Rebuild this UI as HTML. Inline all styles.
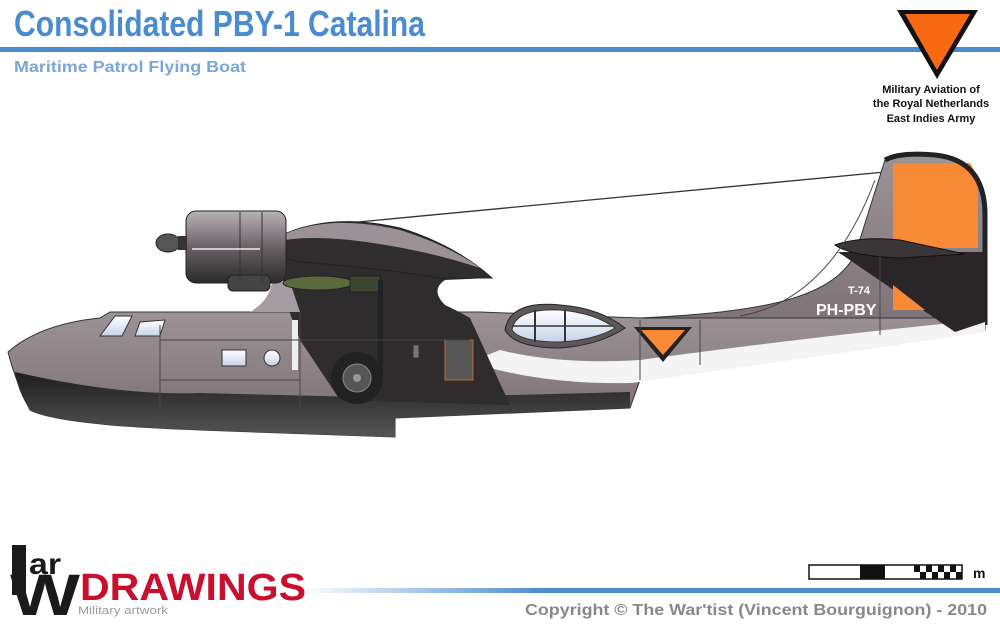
<!DOCTYPE html>
<html><head><meta charset="utf-8"><style>
html,body{margin:0;padding:0;background:#fff;}
svg{display:block;}
</style></head><body>
<svg width="1000" height="630" viewBox="0 0 1000 630" xmlns="http://www.w3.org/2000/svg">
<defs>
<linearGradient id="hull" x1="0" y1="0" x2="0" y2="1">
<stop offset="0" stop-color="#9c9397"/><stop offset="0.5" stop-color="#8a8084"/><stop offset="1" stop-color="#756b70"/>
</linearGradient>
<linearGradient id="keel" x1="0" y1="0" x2="0" y2="1">
<stop offset="0" stop-color="#1e1e1e"/><stop offset="1" stop-color="#555"/>
</linearGradient>
<linearGradient id="eng" x1="0" y1="0" x2="0" y2="1">
<stop offset="0" stop-color="#b9b2b6"/><stop offset="0.5" stop-color="#6a6266"/><stop offset="1" stop-color="#2a2a2a"/>
</linearGradient>
<linearGradient id="bline" x1="0" y1="0" x2="1" y2="0">
<stop offset="0" stop-color="#4a8ccf" stop-opacity="0"/><stop offset="0.35" stop-color="#4a8ccf"/><stop offset="1" stop-color="#4a8ccf"/>
</linearGradient>
<linearGradient id="glass" x1="0" y1="0" x2="0" y2="1">
<stop offset="0" stop-color="#fff"/><stop offset="1" stop-color="#c7d3ea"/>
</linearGradient>
</defs>

<!-- header -->
<text x="14" y="36" font-family="Liberation Sans, sans-serif" font-weight="bold" font-size="36" fill="#4a8ccf" textLength="411" lengthAdjust="spacingAndGlyphs">Consolidated PBY-1 Catalina</text>
<rect x="0" y="47" width="1000" height="5" fill="#4a8ccf"/>
<text x="14" y="72" font-family="Liberation Sans, sans-serif" font-weight="bold" font-size="16" fill="#7aa7d8" textLength="232" lengthAdjust="spacingAndGlyphs">Maritime Patrol Flying Boat</text>
<polygon points="897,10 978,10 937,79" fill="#111"/>
<polygon points="905,14 970,14 937,70" fill="#f86a12"/>
<g font-family="Liberation Sans, sans-serif" font-weight="bold" font-size="11" fill="#111" text-anchor="middle">
<text x="931" y="93">Military Aviation of</text>
<text x="931" y="107">the Royal Netherlands</text>
<text x="931" y="122">East Indies Army</text>
</g>

<!-- strut wire -->
<line x1="358" y1="222" x2="885" y2="172" stroke="#333" stroke-width="1.3"/>

<!-- fin -->
<path d="M640,318 C760,312 830,300 855,255 L885,160 Q900,152 935,155 Q980,160 985,215 L985,330 L640,360 Z" fill="url(#hull)" stroke="#333"/>
<path d="M893,163 L970,163 Q978,175 978,200 L978,248 L893,248 Z" fill="#f98a35"/>
<path d="M885,160 Q900,152 935,155 Q985,160 985,215 L985,325" fill="none" stroke="#222" stroke-width="5"/>

<!-- main hull -->
<path d="M8,352 Q40,324 100,318 L110,312 L480,312 L640,318 L985,318 L985,330 Q900,345 640,380 L630,408 L395,418 L395,437 L200,430 Q60,425 30,410 Q15,380 8,352 Z" fill="url(#hull)" stroke="#333"/>
<!-- white underside -->
<path d="M470,362 Q540,385 632,383 L985,332 L985,320 Q850,332 640,360 Q560,365 500,350 Z" fill="#f4f4f4"/>
<!-- keel -->
<path d="M15,372 Q120,396 200,393 L400,398 L630,392 L630,408 L395,418 L395,437 L200,430 Q60,425 30,410 Q18,392 15,372 Z" fill="url(#keel)"/>
<!-- dark pylon area -->
<path d="M280,245 L490,278 L445,280 Q430,290 445,305 Q460,312 470,318 L510,405 L340,400 L300,340 L285,300 Z" fill="#2e2c2d"/>
<path d="M250,312 Q270,300 272,282 L290,282 L300,312 Z" fill="#a49ca0"/>
<!-- tail lower dark -->
<path d="M838,252 L985,252 L985,322 L955,332 Z" fill="#2a2627"/>
<polygon points="893,285 893,310 925,310" fill="#f98a35"/>
<!-- stabilizer -->
<path d="M835,245 Q860,236 900,240 L965,254 L900,258 Q850,256 835,245 Z" fill="#3a3637" stroke="#111"/>

<!-- wing -->
<path d="M280,236 Q330,212 400,228 Q455,245 492,278 L440,278 Q380,268 300,262 L282,258 Z" fill="#2f2d2e" stroke="#222"/>
<path d="M285,234 Q330,214 400,230 Q450,246 480,268 Q420,248 350,240 Q310,236 285,240 Z" fill="#9a9296"/>
<!-- engine -->
<rect x="186" y="211" width="100" height="72" rx="10" fill="url(#eng)" stroke="#222"/>
<rect x="228" y="275" width="42" height="16" rx="5" fill="#444" stroke="#222"/>
<line x1="240" y1="212" x2="240" y2="283" stroke="#333"/>
<line x1="262" y1="212" x2="262" y2="283" stroke="#333"/>
<line x1="192" y1="249" x2="260" y2="249" stroke="#eee" stroke-width="1.5"/>
<ellipse cx="168" cy="243" rx="12" ry="9" fill="#555" stroke="#222"/>
<rect x="178" y="236" width="9" height="14" fill="#333"/>
<!-- bomb -->
<ellipse cx="318" cy="283" rx="35" ry="7" fill="#5b6a3c" stroke="#222"/>
<rect x="350" y="276" width="30" height="16" fill="#3d4630" stroke="#222"/>

<!-- gear struts -->
<rect x="292" y="320" width="6" height="50" fill="#eee"/>
<rect x="378" y="280" width="5" height="95" fill="#222"/>
<circle cx="357" cy="378" r="26" fill="#222"/>
<circle cx="357" cy="378" r="14" fill="#555" stroke="#888"/>
<circle cx="357" cy="378" r="4" fill="#999"/>

<!-- windows -->
<path d="M100,336 L115,316 L132,316 L122,336 Z" fill="url(#glass)" stroke="#333"/>
<path d="M135,336 L140,322 L165,320 L160,336 Z" fill="url(#glass)" stroke="#333"/>
<rect x="222" y="350" width="24" height="16" fill="url(#glass)" stroke="#333"/>
<ellipse cx="272" cy="358" rx="8" ry="8" fill="url(#glass)" stroke="#333"/>
<rect x="413" y="345" width="6" height="13" fill="#777" stroke="#333"/>
<rect x="445" y="340" width="28" height="40" fill="#555" stroke="#c06a2c"/>

<!-- turret -->
<path d="M505,330 Q510,300 560,305 Q600,308 625,328 Q600,345 560,348 Q515,348 505,330 Z" fill="#5e5759" stroke="#222"/>
<path d="M512,330 Q515,308 560,310 Q595,313 615,328 Q595,340 560,342 Q520,342 512,330 Z" fill="url(#glass)" stroke="#333"/>
<line x1="535" y1="310" x2="535" y2="342" stroke="#333" stroke-width="2"/>
<line x1="565" y1="310" x2="565" y2="342" stroke="#333" stroke-width="2"/>
<line x1="513" y1="326" x2="612" y2="326" stroke="#333" stroke-width="1.5"/>

<!-- roundel -->
<polygon points="634,327 692,327 663,362" fill="#222"/>
<polygon points="641,330 685,330 663,355" fill="#f98a35"/>

<!-- panel lines -->
<g stroke="#4a4346" stroke-width="1" fill="none">
<line x1="160" y1="325" x2="160" y2="425"/>
<line x1="160" y1="340" x2="470" y2="340"/>
<line x1="160" y1="380" x2="300" y2="380"/>
<line x1="300" y1="312" x2="300" y2="410"/>
<line x1="640" y1="320" x2="640" y2="380"/>
<line x1="700" y1="320" x2="700" y2="365"/>
<path d="M740,316 Q830,300 875,180"/>
<line x1="880" y1="255" x2="880" y2="335"/>
</g>

<text x="848" y="294" font-family="Liberation Sans, sans-serif" font-weight="bold" font-size="11" fill="#fff">T-74</text>
<text x="816" y="315" font-family="Liberation Sans, sans-serif" font-weight="bold" font-size="16" fill="#fff">PH-PBY</text>

<!-- footer -->
<rect x="300" y="588" width="700" height="5" fill="url(#bline)"/>
<rect x="12" y="545" width="14" height="50" fill="#1a1a1a"/>
<text x="10" y="615" font-family="Liberation Sans, sans-serif" font-weight="bold" font-size="58" fill="#1a1a1a" textLength="70" lengthAdjust="spacingAndGlyphs">W</text>
<text x="29" y="574" font-family="Liberation Sans, sans-serif" font-weight="bold" font-size="30" fill="#1a1a1a" textLength="32" lengthAdjust="spacingAndGlyphs">ar</text>
<text x="80" y="600" font-family="Liberation Sans, sans-serif" font-weight="bold" font-size="38" fill="#c8102e" textLength="226" lengthAdjust="spacingAndGlyphs">DRAWINGS</text>
<text x="78" y="614" font-family="Liberation Sans, sans-serif" font-size="11" fill="#999" textLength="90" lengthAdjust="spacingAndGlyphs">Military artwork</text>

<rect x="809" y="565" width="153" height="14" fill="#fff" stroke="#111" stroke-width="1.5"/>
<rect x="860" y="565" width="25" height="14" fill="#111"/>
<g fill="#111">
<rect x="914" y="565" width="6" height="7"/><rect x="926" y="565" width="6" height="7"/><rect x="938" y="565" width="6" height="7"/><rect x="950" y="565" width="6" height="7"/>
<rect x="920" y="572" width="6" height="7"/><rect x="932" y="572" width="6" height="7"/><rect x="944" y="572" width="6" height="7"/><rect x="956" y="572" width="6" height="7"/>
</g>
<text x="973" y="578" font-family="Liberation Sans, sans-serif" font-weight="bold" font-size="14" fill="#111">m</text>
<text x="987" y="615" text-anchor="end" font-family="Liberation Sans, sans-serif" font-weight="bold" font-size="16" fill="#888" textLength="462" lengthAdjust="spacingAndGlyphs">Copyright © The War'tist (Vincent Bourguignon) - 2010</text>
</svg>
</body></html>
